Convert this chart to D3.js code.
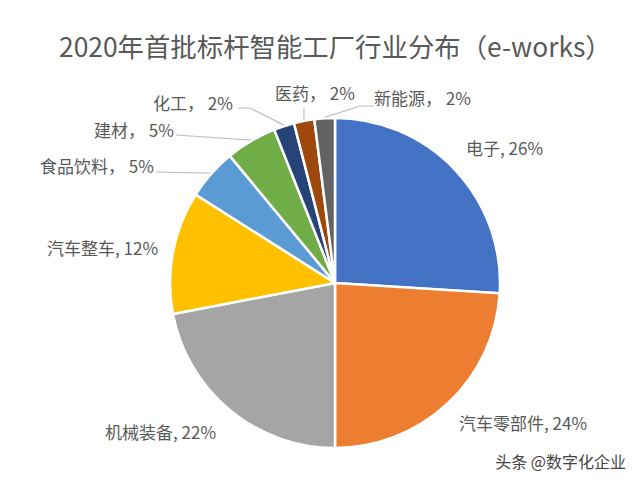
<!DOCTYPE html>
<html lang="zh">

<head>
   <meta charset="utf-8">
   <title>2020年首批标杆智能工厂行业分布</title>
   <script type="text/javascript" src="https://cdnjs.cloudflare.com/ajax/libs/d3/7.8.5/d3.min.js"></script>
   <style>
      html, body { margin: 0; padding: 0; background: #fff; }
      svg { display: block; }
      text { font-family: "Noto Sans CJK SC", "Noto Sans", sans-serif; }
   </style>
</head>

<body>

   <script type="text/javascript">

      const industries = ["电子", "汽车零部件", "机械装备", "汽车整车", "食品饮料", "建材", "化工", "医药", "新能源"];
      const shares = [26, 24, 22, 12, 5, 5, 2, 2, 2];
      const sliceColors = ["#4472c4", "#ed7d31", "#a5a5a5", "#ffc000", "#5b9bd5", "#70ad47", "#264478", "#9e480e", "#636363"];
      const separators = [", ", ", ", ", ", ", ", "， ", "， ", "， ", "， ", "， "];

      // label placement: text position, and the points of the leader line before it hits the slice
      const labelLayout = [
         { x: 466, y: 155 },
         { x: 459, y: 430 },
         { x: 105, y: 439 },
         { x: 47, y: 255 },
         { x: 40, y: 173, lead: [[156, 172]] },
         { x: 94, y: 137, lead: [[176, 135]] },
         { x: 153, y: 110, lead: [[238, 108], [250, 108]] },
         { x: 275, y: 100, lead: [[304, 108]] },
         { x: 374, y: 105, lead: [[374, 106], [360, 106]] }
      ];

      const width = 640, height = 484;
      const cx = 335, cy = 283, radius = 165;

      const svg = d3.select("body").append("svg")
         .attr("width", width)
         .attr("height", height);

      svg.append("text")
         .attr("x", 59)
         .attr("y", 57)
         .attr("font-size", 26.4)
         .attr("fill", "#595959")
         .text("2020年首批标杆智能工厂行业分布（e-works）");

      const pie = d3.pie().sort(null).value(d => d);
      const arc = d3.arc().innerRadius(0).outerRadius(radius);
      const slices = pie(shares);

      const g = svg.append("g").attr("transform", `translate(${cx},${cy})`);

      g.selectAll("path")
         .data(slices)
         .enter()
         .append("path")
         .attr("d", arc)
         .attr("fill", (d, i) => sliceColors[i])
         .attr("stroke", "#fff")
         .attr("stroke-width", 2.5);

      // leader lines run from the label to the rim of the slice
      svg.selectAll("polyline")
         .data(slices.filter((d, i) => labelLayout[i].lead))
         .enter()
         .append("polyline")
         .attr("fill", "none")
         .attr("stroke", "#bfbfbf")
         .attr("stroke-width", 1.2)
         .attr("points", d => {
            const mid = (d.startAngle + d.endAngle) / 2;
            const rim = [cx + (radius + 1) * Math.sin(mid), cy - (radius + 1) * Math.cos(mid)];
            return labelLayout[d.index].lead.concat([rim]).join(" ");
         });

      svg.selectAll("text.label")
         .data(industries)
         .enter()
         .append("text")
         .attr("class", "label")
         .attr("x", (d, i) => labelLayout[i].x)
         .attr("y", (d, i) => labelLayout[i].y)
         .attr("font-size", 17)
         .attr("fill", "#595959")
         .text((d, i) => `${d}${separators[i]}${shares[i]}%`);

      svg.append("text")
         .attr("x", 626)
         .attr("y", 468)
         .attr("text-anchor", "end")
         .attr("font-size", 16)
         .attr("fill", "#444")
         .text("头条 @数字化企业");

   </script>
</body>

</html>
